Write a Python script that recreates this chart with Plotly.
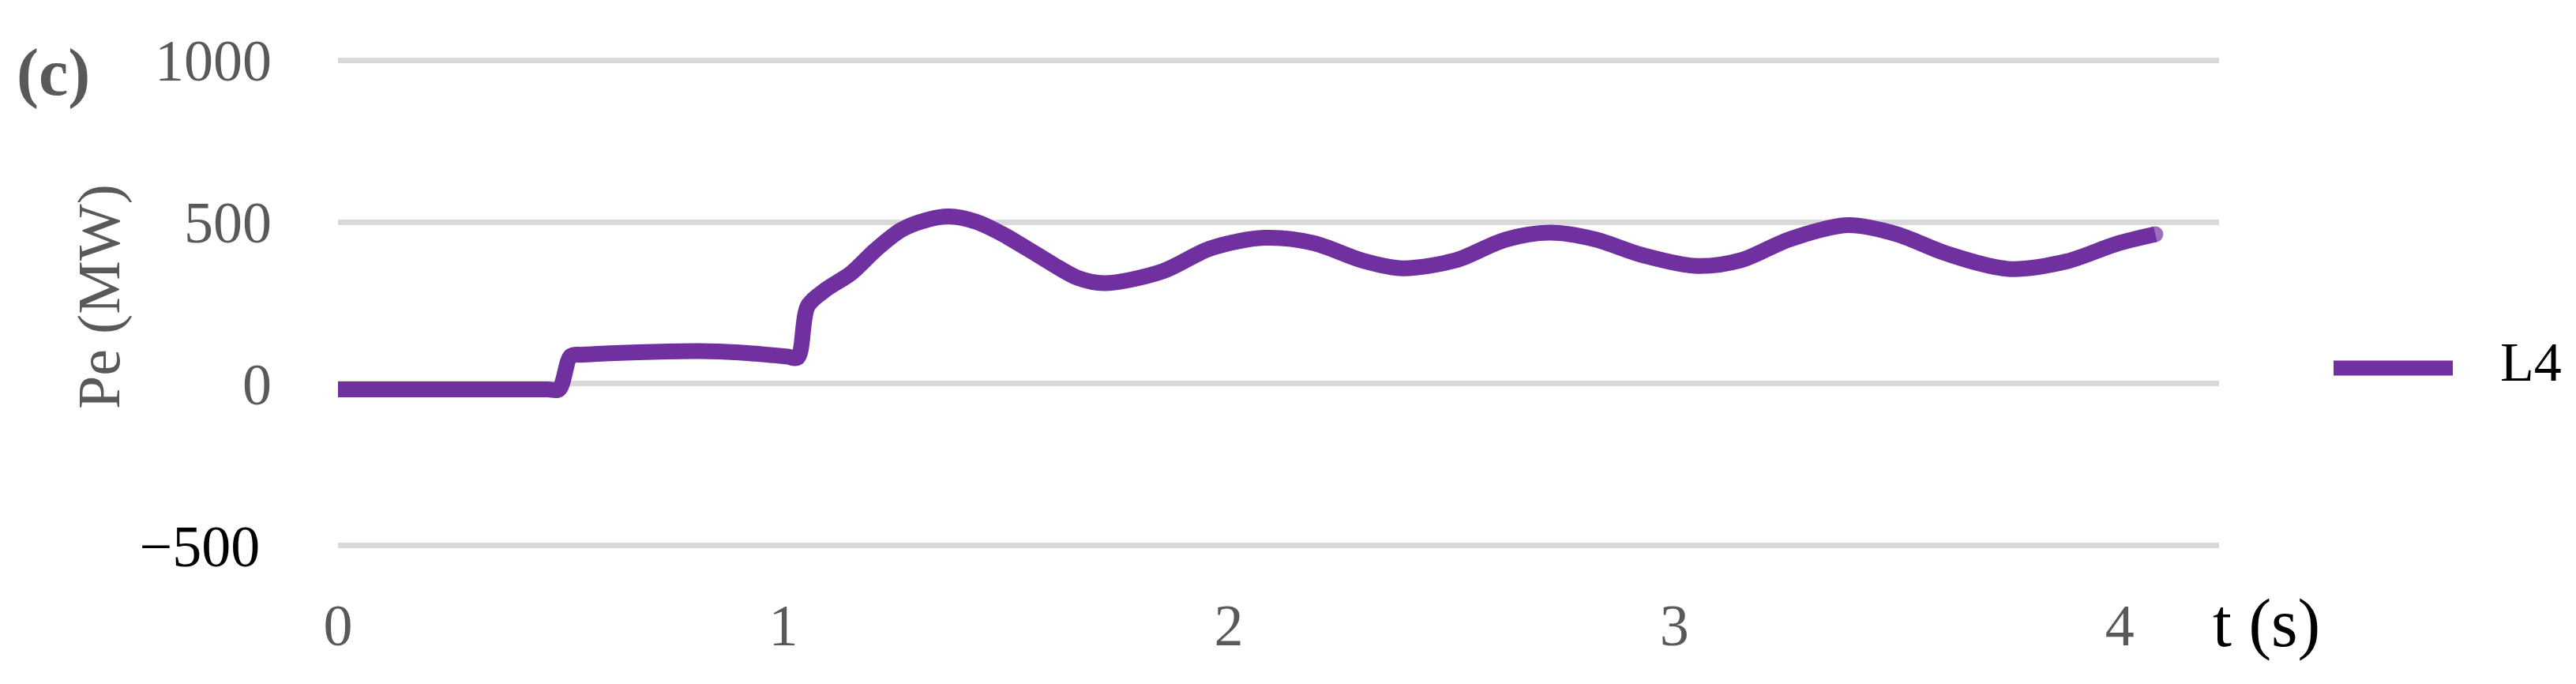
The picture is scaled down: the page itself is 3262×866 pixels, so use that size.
import plotly.graph_objects as go

# ---- data ----
t_s = [0.00, 0.25, 0.47, 0.496, 0.523, 0.55, 0.69, 0.81, 0.90, 0.98,
       1.01, 1.032, 1.055, 1.095, 1.152, 1.208, 1.265, 1.321, 1.372, 1.434,
       1.491, 1.548, 1.604, 1.661, 1.72, 1.85, 1.96, 2.08, 2.19, 2.30,
       2.39, 2.51, 2.62, 2.72, 2.82, 2.93, 3.05, 3.15, 3.26, 3.39,
       3.50, 3.61, 3.75, 3.88, 3.99, 4.08]
pe_L4 = [-17, -17, -17, -17, 86, 90, 98, 101, 97, 88,
         84, 81, 241, 291, 342, 415, 476, 506, 517, 500,
         463, 417, 370, 327, 311, 347, 419, 451, 435, 381,
         357, 382, 445, 467, 447, 397, 364, 382, 447, 490,
         462, 403, 355, 378, 431, 462]
series_name = "L4"
x_ticks = [0, 1, 2, 3, 4]
x_ticktext = ["0", "1", "2", "3", "4"]
y_ticks = [-500, 0, 500, 1000]
y_ticktext = ["<span style='color:#000000'>\u2212500\u2009</span>", "0", "500", "1000"]

# ---- layout geometry (pixels) ----
W, H = 3262, 866
L, R = 420, 2802          # plot area left/right
T, B = 66, 685            # plot area top/bottom
GRAY = "#595959"
PURPLE = "#7030A0"
FONT = "Liberation Serif"


def px_x(p):
    return (p - L) / (R - L)


def px_y(p):
    return (B - p) / (B - T)


# round cap at the end of the line (marker only on the last sample)
end_marker = [0] * (len(t_s) - 1) + [20]

fig = go.Figure()
fig.add_trace(go.Scatter(
    x=t_s, y=pe_L4, mode="lines+markers", name=series_name,
    line=dict(color=PURPLE, width=20, shape="spline", smoothing=0.9),
    marker=dict(color=PURPLE, size=end_marker, line=dict(width=0)),
    showlegend=False, cliponaxis=True,
))

fig.update_layout(
    width=W, height=H,
    margin=dict(l=L, r=W - R, t=T, b=H - B, pad=0),
    paper_bgcolor="white", plot_bgcolor="white",
    font=dict(family=FONT, color=GRAY, size=74),
    xaxis=dict(range=[0, 4.223], tickvals=x_ticks, ticktext=x_ticktext,
               showgrid=False, zeroline=False, showline=False, ticks="",
               ticklabelstandoff=49, tickfont=dict(size=74, color=GRAY)),
    yaxis=dict(range=[-505, 1005], tickvals=y_ticks, ticktext=y_ticktext,
               showgrid=True, gridcolor="#D9D9D9", gridwidth=7,
               zeroline=False, showline=False, ticks="",
               ticklabelstandoff=83, tickfont=dict(size=74, color=GRAY)),
    showlegend=False,
)

# legend (drawn manually for the long line sample)
fig.add_shape(type="line", xref="paper", yref="paper",
              x0=px_x(2947), x1=px_x(3098), y0=px_y(458), y1=px_y(458),
              line=dict(color=PURPLE, width=19))
fig.add_annotation(text=series_name, xref="paper", yref="paper",
                   x=px_x(3156), y=px_y(450), xanchor="left", yanchor="middle",
                   showarrow=False, font=dict(family=FONT, size=70, color="#000000"))

# panel label, axis titles
fig.add_annotation(text="<b>(c)</b>", xref="paper", yref="paper",
                   x=px_x(60), y=px_y(84), xanchor="center", yanchor="middle",
                   showarrow=False, font=dict(family=FONT, size=84, color=GRAY))
fig.add_annotation(text="Pe (MW)", xref="paper", yref="paper", textangle=-90,
                   x=px_x(117), y=px_y(367), xanchor="center", yanchor="middle",
                   showarrow=False, font=dict(family=FONT, size=76, color=GRAY))
fig.add_annotation(text="t (s)", xref="paper", yref="paper",
                   x=px_x(2862), y=px_y(781), xanchor="center", yanchor="middle",
                   showarrow=False, font=dict(family=FONT, size=86, color="#000000"))

fig.write_html("out.html")
